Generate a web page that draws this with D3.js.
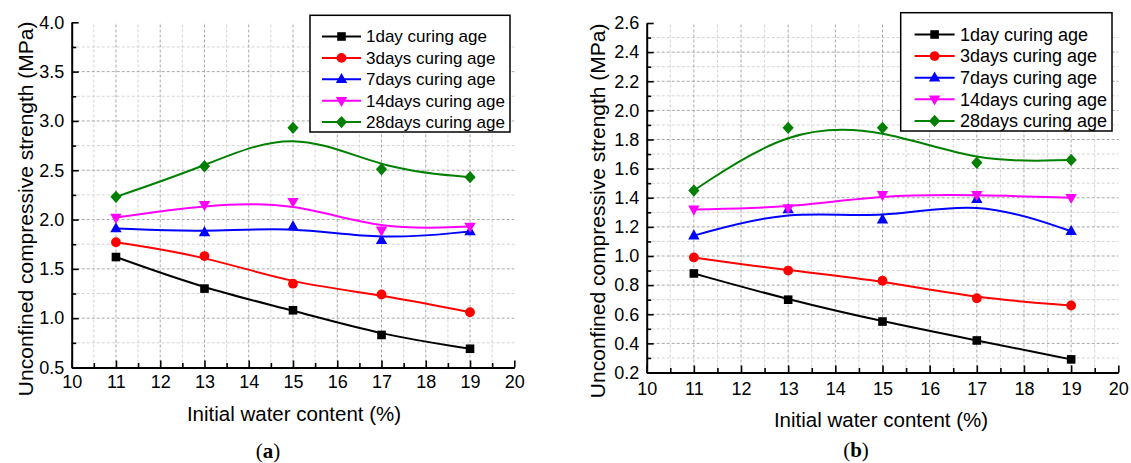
<!DOCTYPE html>
<html><head><meta charset="utf-8">
<script src="https://cdn.jsdelivr.net/npm/d3@7"></script>
<style>
body{margin:0;background:#fff;}
svg{display:block;font-family:"Liberation Sans",Arial,sans-serif;}
</style></head>
<body><svg id="chart" width="1131" height="463"></svg>
<script>
// ---------- data ----------
const waterContent = [11, 13, 15, 17, 19];
const seriesNames = ["1day curing age", "3days curing age", "7days curing age", "14days curing age", "28days curing age"];
const seriesColors = ["#000000", "#ff0000", "#0000ff", "#ff00ff", "#008000"];
const seriesShapes = ["square", "circle", "triangleUp", "triangleDown", "diamond"];

// panel (a)
const a1day   = [1.62, 1.30, 1.08, 0.83, 0.69];
const a3days  = [1.77, 1.63, 1.35, 1.24, 1.06];
const a7days  = [1.91, 1.87, 1.93, 1.79, 1.88];
const a14days = [2.02, 2.15, 2.18, 1.89, 1.93];
const a28days = [2.23, 2.54, 2.93, 2.51, 2.43];

// panel (b)
const b1day   = [0.88, 0.70, 0.55, 0.42, 0.29];
const b3days  = [0.99, 0.90, 0.83, 0.71, 0.66];
const b7days  = [1.14, 1.32, 1.25, 1.39, 1.17];
const b14days = [1.32, 1.33, 1.42, 1.42, 1.40];
const b28days = [1.45, 1.88, 1.88, 1.64, 1.66];

const xTickValues = [10, 11, 12, 13, 14, 15, 16, 17, 18, 19, 20];
const xMinorValues = [10.5, 11.5, 12.5, 13.5, 14.5, 15.5, 16.5, 17.5, 18.5, 19.5];
const yTicksA = [0.5, 1.0, 1.5, 2.0, 2.5, 3.0, 3.5, 4.0];
const yMinorA = [0.75, 1.25, 1.75, 2.25, 2.75, 3.25, 3.75];
const yTicksB = [0.2, 0.4, 0.6, 0.8, 1.0, 1.2, 1.4, 1.6, 1.8, 2.0, 2.2, 2.4, 2.6];
const yMinorB = [0.3, 0.5, 0.7, 0.9, 1.1, 1.3, 1.5, 1.7, 1.9, 2.1, 2.3, 2.5];

const xTitle = "Initial water content (%)";
const yTitle = "Unconfined compressive strength (MPa)";

// ---------- drawing ----------
const svg = d3.select("#chart");

function markerPath(shape) {
  const p = d3.path();
  if (shape === "square") { const s = 4.3; p.rect(-s, -s, 2*s, 2*s); }
  else if (shape === "circle") { p.arc(0, 0, 4.9, 0, 2*Math.PI); }
  else if (shape === "triangleUp") { p.moveTo(0, -6.3); p.lineTo(5.7, 3.8); p.lineTo(-5.7, 3.8); p.closePath(); }
  else if (shape === "triangleDown") { p.moveTo(0, 6.3); p.lineTo(5.7, -3.8); p.lineTo(-5.7, -3.8); p.closePath(); }
  else if (shape === "diamond") { p.moveTo(0, -6.2); p.lineTo(5.6, 0); p.lineTo(0, 6.2); p.lineTo(-5.6, 0); p.closePath(); }
  return p.toString();
}

function drawPanel(cfg) {
  const g = svg.append("g");
  const x = d3.scaleLinear().domain([10, 20]).range([cfg.x0, cfg.x1]);
  const y = d3.scaleLinear().domain(cfg.yDomain).range([cfg.y0, cfg.y1]);

  // grid
  const grid = g.append("g");
  grid.selectAll(".gxm").data(xMinorValues).join("line")
    .attr("x1", d => x(d)).attr("x2", d => x(d)).attr("y1", cfg.y0).attr("y2", cfg.y1)
    .attr("stroke", "#d4d4d4").attr("stroke-dasharray", "3,2");
  grid.selectAll(".gym").data(cfg.yMinor).join("line")
    .attr("y1", d => y(d)).attr("y2", d => y(d)).attr("x1", cfg.x0).attr("x2", cfg.x1)
    .attr("stroke", "#d4d4d4").attr("stroke-dasharray", "3,2");
  grid.selectAll(".gx").data(xTickValues.slice(1, -1)).join("line")
    .attr("x1", d => x(d)).attr("x2", d => x(d)).attr("y1", cfg.y0).attr("y2", cfg.y1)
    .attr("stroke", "#a8a8a8").attr("stroke-dasharray", "3,2");
  grid.selectAll(".gy").data(cfg.yTicks.slice(1, -1)).join("line")
    .attr("y1", d => y(d)).attr("y2", d => y(d)).attr("x1", cfg.x0).attr("x2", cfg.x1)
    .attr("stroke", "#a8a8a8").attr("stroke-dasharray", "3,2");

  // axes
  g.append("g").attr("transform", `translate(0,${cfg.y0})`)
    .call(d3.axisBottom(x).tickValues(xTickValues).tickFormat(d3.format("d"))
      .tickSizeInner(-7).tickSizeOuter(0).tickPadding(cfg.xPad));
  g.append("g").attr("transform", `translate(0,${cfg.y0})`)
    .call(d3.axisBottom(x).tickValues(xMinorValues).tickFormat("").tickSizeInner(-4.5).tickSizeOuter(0))
    .call(s => s.select(".domain").remove());
  g.append("g").attr("transform", `translate(${cfg.x0},0)`)
    .call(d3.axisLeft(y).tickValues(cfg.yTicks).tickFormat(d3.format(".1f"))
      .tickSizeInner(-7).tickSizeOuter(0).tickPadding(7.5));
  g.append("g").attr("transform", `translate(${cfg.x0},0)`)
    .call(d3.axisLeft(y).tickValues(cfg.yMinor).tickFormat("").tickSizeInner(-4.5).tickSizeOuter(0))
    .call(s => s.select(".domain").remove());
  g.selectAll(".domain").attr("stroke-width", 2).attr("stroke", "#000");
  g.selectAll(".tick line").attr("stroke-width", 1.6).attr("stroke", "#000");
  g.selectAll(".tick text").attr("font-size", 18).attr("fill", "#000")
    .attr("font-family", "Liberation Sans, Arial, sans-serif");

  // series
  const line = d3.line().x((d, i) => x(waterContent[i])).y(d => y(d)).curve(d3.curveBasis);
  cfg.series.forEach((vals, k) => {
    g.append("path").attr("d", line(vals)).attr("fill", "none")
      .attr("stroke", seriesColors[k]).attr("stroke-width", 2);
  });
  cfg.series.forEach((vals, k) => {
    g.append("g").selectAll("path").data(vals).join("path")
      .attr("d", markerPath(seriesShapes[k]))
      .attr("transform", (d, i) => `translate(${x(waterContent[i])},${y(d)})`)
      .attr("fill", seriesColors[k]);
  });

  // legend
  const L = cfg.legend;
  const lg = g.append("g");
  lg.append("rect").attr("x", L.x).attr("y", L.y).attr("width", L.w).attr("height", L.h)
    .attr("fill", "#fff").attr("stroke", "#000").attr("stroke-width", 1.5);
  seriesNames.forEach((name, k) => {
    const ry = L.rowY + k * L.rowGap;
    lg.append("line").attr("x1", L.lx1).attr("x2", L.lx2).attr("y1", ry).attr("y2", ry)
      .attr("stroke", seriesColors[k]).attr("stroke-width", 2);
    lg.append("path").attr("d", markerPath(seriesShapes[k]))
      .attr("transform", `translate(${(L.lx1 + L.lx2) / 2},${ry})`).attr("fill", seriesColors[k]);
    lg.append("text").attr("x", L.tx).attr("y", ry).attr("dy", "0.35em")
      .attr("font-size", L.fs).text(name);
  });

  // titles
  g.append("text").attr("x", cfg.xtX).attr("y", cfg.xtY).attr("text-anchor", "middle")
    .attr("font-size", 20.5).text(xTitle);
  g.append("text").attr("transform", `translate(${cfg.ytX},${cfg.ytY}) rotate(-90)`)
    .attr("text-anchor", "middle").attr("font-size", 21).text(yTitle);

  // caption
  const cap = g.append("text").attr("x", cfg.capX).attr("y", cfg.capY).attr("text-anchor", "middle")
    .attr("font-family", "Liberation Serif, Times New Roman, serif").attr("font-size", 21);
  cap.append("tspan").text("(");
  cap.append("tspan").attr("font-weight", "bold").text(cfg.capLetter);
  cap.append("tspan").text(")");
}

drawPanel({
  x0: 71.7, x1: 514.3, y0: 367.5, y1: 22.3, yDomain: [0.5, 4.0],
  yTicks: yTicksA, yMinor: yMinorA, xPad: 8,
  series: [a1day, a3days, a7days, a14days, a28days],
  legend: { x: 310, y: 15.3, w: 200, h: 116.7, rowY: 36.5, rowGap: 21.4, lx1: 322, lx2: 361, tx: 366, fs: 17 },
  xtX: 294, xtY: 420.5, ytX: 33, ytY: 208.8,
  capX: 268, capY: 458, capLetter: "a"
});

drawPanel({
  x0: 646.7, x1: 1118.3, y0: 372.5, y1: 23, yDomain: [0.2, 2.6],
  yTicks: yTicksB, yMinor: yMinorB, xPad: 9.7,
  series: [b1day, b3days, b7days, b14days, b28days],
  legend: { x: 900.7, y: 12.7, w: 211.3, h: 118.3, rowY: 34.5, rowGap: 21.6, lx1: 914.6, lx2: 954.6, tx: 960, fs: 18 },
  xtX: 881, xtY: 426.5, ytX: 605, ytY: 210.8,
  capX: 856, capY: 457, capLetter: "b"
});
</script>
</body></html>
